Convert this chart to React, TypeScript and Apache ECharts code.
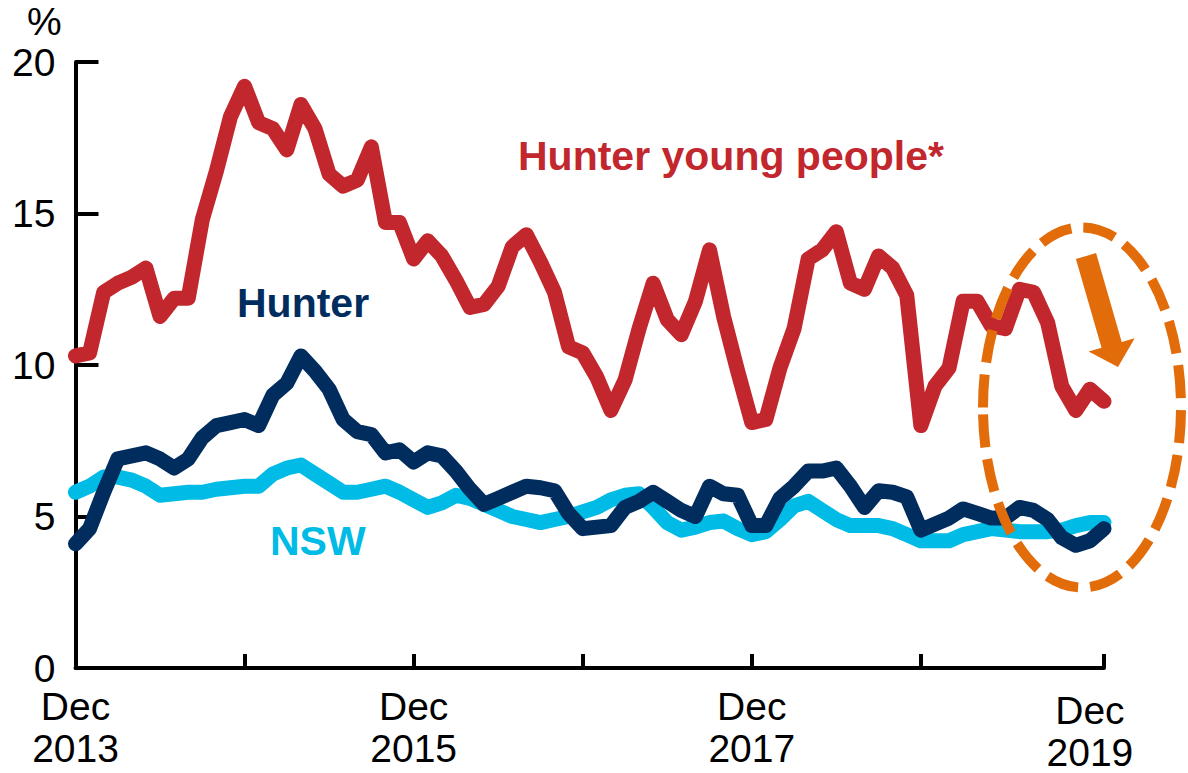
import React, { useEffect, useRef } from "react";
import * as echarts from "echarts";

// ---- data ----
const MONTH_NAMES = ["Jan", "Feb", "Mar", "Apr", "May", "Jun", "Jul", "Aug", "Sep", "Oct", "Nov", "Dec"];
const categories: string[] = [];
for (let i = 0; i < 74; i++) {
  const m = (11 + i) % 12;
  const y = 2013 + Math.floor((11 + i) / 12);
  categories.push(`${MONTH_NAMES[m]} ${y}`);
}

const hunterYoung = [
  10.3, 10.4, 12.4, 12.7, 12.9, 13.2, 11.6, 12.2, 12.2, 14.8, 16.4, 18.2, 19.2,
  18.0, 17.8, 17.1, 18.6, 17.8, 16.3, 15.9, 16.1, 17.2, 14.7, 14.7, 13.5,
  14.1, 13.6, 12.8, 11.9, 12.0, 12.6, 13.9, 14.3, 13.4, 12.4, 10.6, 10.4,
  9.6, 8.5, 9.5, 11.2, 12.7, 11.5, 11.0, 12.1, 13.8, 11.6, 9.8, 8.1,
  8.2, 9.9, 11.2, 13.5, 13.8, 14.4, 12.7, 12.5, 13.6, 13.2, 12.3, 8.0,
  9.3, 9.9, 12.1, 12.1, 11.3, 11.2, 12.5, 12.4, 11.4, 9.3, 8.5, 9.2, 8.8,
];

const hunter = [
  4.1, 4.6, 5.8, 6.9, 7.0, 7.1, 6.9, 6.6, 6.9, 7.6, 8.0, 8.1, 8.2,
  8.0, 9.0, 9.4, 10.3, 9.8, 9.2, 8.2, 7.8, 7.7, 7.1, 7.2, 6.8,
  7.1, 7.0, 6.5, 5.9, 5.4, 5.6, 5.8, 6.0, 5.95, 5.85, 5.1, 4.6,
  4.65, 4.7, 5.3, 5.5, 5.8, 5.5, 5.2, 5.0, 6.0, 5.75, 5.7, 4.7,
  4.7, 5.6, 6.0, 6.5, 6.5, 6.6, 6.0, 5.3, 5.85, 5.8, 5.65, 4.55,
  4.75, 4.95, 5.25, 5.1, 4.95, 4.95, 5.3, 5.2, 4.9, 4.3, 4.05, 4.2, 4.6,
];

const nsw = [
  5.8, 6.0, 6.3, 6.3, 6.2, 6.0, 5.7, 5.75, 5.8, 5.8, 5.9, 5.95, 6.0,
  6.0, 6.4, 6.6, 6.7, 6.4, 6.1, 5.8, 5.8, 5.9, 6.0, 5.8, 5.55,
  5.3, 5.45, 5.7, 5.6, 5.4, 5.2, 5.0, 4.9, 4.8, 4.9, 5.0, 5.15,
  5.3, 5.55, 5.7, 5.75, 5.3, 4.8, 4.55, 4.65, 4.8, 4.85, 4.6, 4.4,
  4.5, 4.9, 5.35, 5.5, 5.2, 4.9, 4.7, 4.7, 4.7, 4.6, 4.4, 4.2,
  4.2, 4.2, 4.4, 4.5, 4.6, 4.55, 4.5, 4.5, 4.5, 4.55, 4.7, 4.8, 4.8,
];

const xTickIdx = [0, 12, 24, 36, 48, 60, 73];
const xLabelIdx = [0, 24, 48, 72];
const yTicks = { min: 0, max: 20, interval: 5 };

const FONT = "'Liberation Sans', Arial, sans-serif";
const RED = "#C1272D";
const NAVY = "#002D5E";
const LIGHT = "#00BBE6";
const ORANGE = "#E36C0A";

export default function App() {
  const ref = useRef<HTMLDivElement>(null);

  useEffect(() => {
    if (!ref.current) return;
    const chart = echarts.init(ref.current, undefined, { renderer: "svg" });

    // arrow geometry (annotation)
    const tail = [1086, 256];
    const tip = [1118, 367];
    const dx = tip[0] - tail[0];
    const dy = tip[1] - tail[1];
    const len = Math.sqrt(dx * dx + dy * dy);
    const ux = dx / len, uy = dy / len;
    const nx = uy, ny = -ux;
    const headLen = 23, shaftHalf = 10.5, headHalf = 24;
    const bx = tip[0] - ux * headLen, by = tip[1] - uy * headLen;
    const arrowPts = [
      [tail[0] + nx * shaftHalf, tail[1] + ny * shaftHalf],
      [bx + nx * shaftHalf, by + ny * shaftHalf],
      [bx + nx * headHalf, by + ny * headHalf],
      [tip[0], tip[1]],
      [bx - nx * headHalf, by - ny * headHalf],
      [bx - nx * shaftHalf, by - ny * shaftHalf],
      [tail[0] - nx * shaftHalf, tail[1] - ny * shaftHalf],
    ];

    const lineStyle = (color: string) => ({ width: 15, color, cap: "round", join: "round" });
    const lastLabel = categories[xLabelIdx[xLabelIdx.length - 1]];

    chart.setOption({
      animation: false,
      backgroundColor: "#ffffff",
      grid: { left: 75.5, right: 84, top: 62, bottom: 102.5, containLabel: false },
      xAxis: {
        type: "category",
        data: categories,
        boundaryGap: false,
        axisLine: { lineStyle: { color: "#000", width: 4 } },
        axisTick: {
          inside: true,
          length: 14,
          lineStyle: { color: "#000", width: 4 },
          interval: (i: number) => xTickIdx.includes(i),
        },
        axisLabel: {
          interval: (i: number) => xLabelIdx.includes(i),
          formatter: (v: string) => {
            const [m, y] = v.split(" ");
            return v === lastLabel ? `{l|${m}}\n{n|${y}}` : `{n|${m}}\n{n|${y}}`;
          },
          color: "#000",
          fontSize: 39,
          fontFamily: FONT,
          lineHeight: 42,
          margin: 17,
          rich: {
            n: { fontSize: 39, fontFamily: FONT, color: "#000", lineHeight: 42 },
            l: { fontSize: 39, fontFamily: FONT, color: "#000", lineHeight: 46, padding: [4, 0, 0, 0] },
          },
        },
        splitLine: { show: false },
      },
      yAxis: {
        type: "value",
        min: yTicks.min,
        max: yTicks.max,
        interval: yTicks.interval,
        axisLine: { show: true, lineStyle: { color: "#000", width: 4 } },
        axisTick: { show: true, inside: true, length: 23, lineStyle: { color: "#000", width: 4 } },
        axisLabel: { color: "#000", fontSize: 39, fontFamily: FONT, margin: 20, lineHeight: 28 },
        splitLine: { show: false },
      },
      series: [
        { name: "NSW", type: "line", data: nsw, symbol: "none", lineStyle: lineStyle(LIGHT), z: 2 },
        { name: "Hunter", type: "line", data: hunter, symbol: "none", lineStyle: lineStyle(NAVY), z: 3 },
        { name: "Hunter young people*", type: "line", data: hunterYoung, symbol: "none", lineStyle: lineStyle(RED), z: 4 },
      ],
      graphic: [
        { type: "text", x: 27, y: 21, style: { text: "%", fill: "#000", font: `39px ${FONT}`, textAlign: "left", textVerticalAlign: "middle" } },
        { type: "text", x: 518, y: 156, style: { text: "Hunter young people*", fill: RED, font: `bold 41px ${FONT}`, textAlign: "left", textVerticalAlign: "middle" } },
        { type: "text", x: 237, y: 303, style: { text: "Hunter", fill: NAVY, font: `bold 41px ${FONT}`, textAlign: "left", textVerticalAlign: "middle" } },
        { type: "text", x: 270, y: 541, style: { text: "NSW", fill: LIGHT, font: `bold 41px ${FONT}`, textAlign: "left", textVerticalAlign: "middle" } },
        {
          type: "ellipse",
          shape: { cx: 1082, cy: 407.5, rx: 99, ry: 180 },
          style: { fill: "none", stroke: ORANGE, lineWidth: 10, lineDash: [33, 12] },
          z: 10,
        },
        { type: "polygon", shape: { points: arrowPts }, style: { fill: ORANGE }, z: 10 },
      ],
    });

    return () => chart.dispose();
  }, []);

  return (
    <div
      ref={ref}
      style={{ position: "fixed", left: 0, top: 0, width: 1188, height: 773, background: "#fff" }}
    />
  );
}
